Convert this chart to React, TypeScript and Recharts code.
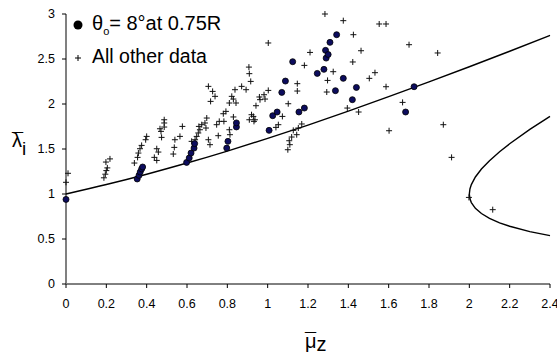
import React from 'react';
import { ScatterChart, Scatter, XAxis, YAxis, Legend } from 'recharts';

// theta_o = 8 deg at 0.75R  (mu_z, lambda_i)
const thetaPoints: [number, number][] = [
  [0, 0.94],
  [0.353, 1.167], [0.362, 1.207], [0.368, 1.244], [0.375, 1.278], [0.38, 1.3],
  [0.598, 1.351], [0.611, 1.4], [0.62, 1.455], [0.635, 1.51], [0.638, 1.56],
  [0.797, 1.51], [0.803, 1.585], [0.845, 1.745], [0.845, 1.79],
  [1.007, 1.707], [1.025, 1.87], [1.047, 1.911], [1.07, 2.129], [1.088, 2.255],
  [1.124, 2.47], [1.155, 1.911], [1.182, 1.955], [1.246, 2.34], [1.279, 2.385],
  [1.287, 2.596], [1.29, 2.51], [1.3, 2.55], [1.309, 2.685], [1.342, 2.77],
  [1.336, 2.148], [1.375, 2.285], [1.42, 2.048], [1.44, 2.184],
  [1.684, 1.911], [1.726, 2.192]
];

// all other data
const otherPoints: [number, number][] = [
  [0.0, 1.13], [0.01, 1.23],
  [0.188, 1.18], [0.195, 1.22], [0.2, 1.26], [0.205, 1.29], [0.198, 1.355], [0.218, 1.39],
  [0.339, 1.344], [0.355, 1.407], [0.359, 1.455], [0.367, 1.503], [0.375, 1.54], [0.395, 1.603], [0.4, 1.64],
  [0.438, 1.407], [0.45, 1.373], [0.45, 1.503], [0.458, 1.466], [0.466, 1.725], [0.471, 1.696],
  [0.474, 1.629], [0.487, 1.744], [0.487, 1.789], [0.487, 1.825],
  [0.532, 1.444], [0.537, 1.518], [0.54, 1.603], [0.565, 1.64], [0.577, 1.751],
  [0.623, 1.585], [0.64, 1.603], [0.648, 1.64], [0.656, 1.678], [0.659, 1.751], [0.664, 1.714],
  [0.673, 1.77], [0.689, 1.789], [0.694, 1.733], [0.698, 1.844], [0.706, 1.603], [0.714, 1.548],
  [0.706, 2.196], [0.727, 2.14], [0.739, 2.085], [0.717, 2.029],
  [0.747, 1.77], [0.755, 1.648], [0.76, 1.807], [0.78, 1.892], [0.783, 1.807], [0.793, 1.918],
  [0.81, 1.714], [0.813, 1.659], [0.83, 1.856],
  [0.81, 2.011], [0.822, 2.085], [0.83, 2.055], [0.838, 2.159], [0.843, 2.011], [0.871, 2.196], [0.893, 2.159],
  [0.907, 2.41], [0.909, 2.337], [0.916, 2.251],
  [0.909, 1.825], [0.92, 1.881], [0.929, 1.862], [0.932, 1.807], [0.937, 1.825],
  [0.942, 1.981], [0.959, 2.078], [0.962, 2.048], [0.982, 2.103], [0.987, 2.055], [1.003, 2.151],
  [1.003, 2.678], [1.041, 1.74], [1.053, 1.77], [1.073, 1.862], [1.102, 2.003], [1.147, 2.144],
  [1.147, 2.226], [1.182, 2.429], [1.21, 2.573], [1.284, 3.0],
  [1.1, 1.492], [1.11, 1.548], [1.107, 1.592], [1.119, 1.633], [1.127, 1.707], [1.144, 1.659],
  [1.152, 1.733], [1.169, 1.778],
  [1.293, 2.133], [1.297, 2.262], [1.325, 2.359], [1.375, 2.926], [1.395, 1.955], [1.422, 2.467],
  [1.425, 2.77], [1.451, 1.911], [1.463, 2.592], [1.504, 2.285], [1.532, 2.348], [1.553, 2.889],
  [1.587, 2.889], [1.587, 2.192], [1.602, 1.703], [1.669, 2.018], [1.701, 2.659], [1.843, 2.567],
  [1.871, 1.77], [1.912, 1.407], [1.998, 0.962], [2.116, 0.826]
];

// momentum theory curve
const mainCurve: [number, number][] = [
  [0, 1.0], [0.2, 1.105], [0.4, 1.22], [0.6, 1.344], [0.8, 1.477], [1.0, 1.618], [1.2, 1.766],
  [1.4, 1.921], [1.6, 2.081], [1.8, 2.245], [2.0, 2.414], [2.2, 2.586], [2.4, 2.762]
];

// windmill branch (lower end -> nose -> upper end)
const branchCurve: [number, number][] = [
  [2.4, 0.537], [2.3, 0.582], [2.2, 0.642], [2.15, 0.68], [2.1, 0.73], [2.06, 0.783], [2.03, 0.841],
  [2.01, 0.905], [2.003, 0.947], [2.0, 1.0], [2.003, 1.056], [2.01, 1.105], [2.03, 1.189],
  [2.06, 1.277], [2.1, 1.37], [2.15, 1.47], [2.2, 1.558], [2.3, 1.718], [2.4, 1.863]
];

const xTicks = [0, 0.2, 0.4, 0.6, 0.8, 1, 1.2, 1.4, 1.6, 1.8, 2, 2.2, 2.4];
const yTicks = [0, 0.5, 1, 1.5, 2, 2.5, 3];

const toXY = (pts: [number, number][]) => pts.map(([x, y]) => ({ x, y }));

const FONT = '"Liberation Sans", Arial, sans-serif';
const tickStyle = { fontFamily: FONT, fontSize: 12.5, fill: '#000' };

const Dot = (props: any) => (
  <circle cx={props.cx} cy={props.cy} r={3} fill="#0c0c5e" stroke="#000" strokeWidth={0.8} />
);

const Plus = (props: any) => (
  <path
    d={`M${props.cx - 3},${props.cy}h6M${props.cx},${props.cy - 3}v6`}
    stroke="#111"
    strokeWidth={1}
    fill="none"
  />
);

const NoShape = () => <g />;

const renderLegend = () => (
  <svg width={300} height={70} style={{ display: 'block' }}>
    <circle cx={78} cy={25} r={4.5} fill="#000" />
    <text x={92} y={30} fontFamily={FONT} fontSize={20} fill="#000">
      θ
      <tspan fontSize={11} dy={5}>o</tspan>
      <tspan fontSize={20} dy={-5}>= 8°at 0.75R</tspan>
    </text>
    <path d="M75,58h6M78,55v6" stroke="#000" strokeWidth={1} />
    <text x={92} y={63} fontFamily={FONT} fontSize={19.5} fill="#000">
      All other data
    </text>
  </svg>
);

// bar drawn as a macron glyph, then the letter set back under it
const YTitle = () => (
  <text x={12} y={147} fontFamily={FONT} fontSize={20} fill="#000">
    <tspan>{'\u00AF'}</tspan>
    <tspan x={12} dy={0}>λ</tspan>
    <tspan fontSize={19} dy={8}>i</tspan>
  </text>
);

const XTitle = () => (
  <text x={305} y={347} fontFamily={FONT} fontSize={20} fill="#000">
    <tspan>{'\u00AF'}</tspan>
    <tspan x={305} dy={1}>μ</tspan>
    <tspan dy={3}>z</tspan>
  </text>
);

export default function App() {
  return (
    <div style={{ position: 'absolute', left: 0, top: 0, width: 557, height: 355, background: '#fff' }}>
      <ScatterChart width={557} height={355} margin={{ top: 14, right: 7, bottom: 0, left: 0 }}>
        <XAxis
          type="number"
          dataKey="x"
          domain={[0, 2.4]}
          ticks={xTicks}
          interval={0}
          height={71}
          tickSize={4}
          tickMargin={11}
          tick={tickStyle}
          axisLine={{ stroke: '#000', strokeWidth: 1 }}
          tickLine={{ stroke: '#000' }}
          label={{ content: XTitle }}
        />
        <YAxis
          type="number"
          dataKey="y"
          domain={[0, 3]}
          ticks={yTicks}
          interval={0}
          width={66}
          tickSize={4}
          tickMargin={7}
          tick={tickStyle}
          axisLine={{ stroke: '#808080', strokeWidth: 2 }}
          tickLine={{ stroke: '#000' }}
          label={{ content: YTitle }}
        />
        <Legend
          layout="vertical"
          align="center"
          verticalAlign="middle"
          wrapperStyle={{ left: 0, top: 0, width: 300, height: 70 }}
          content={renderLegend}
        />
        <Scatter
          data={toXY(mainCurve)}
          shape={NoShape}
          line={{ stroke: '#000', strokeWidth: 1.4 }}
          lineJointType="monotoneX"
          isAnimationActive={false}
        />
        <Scatter
          data={toXY(branchCurve)}
          shape={NoShape}
          line={{ stroke: '#000', strokeWidth: 1.4 }}
          lineJointType="linear"
          isAnimationActive={false}
        />
        <Scatter data={toXY(otherPoints)} shape={Plus} isAnimationActive={false} />
        <Scatter data={toXY(thetaPoints)} shape={Dot} isAnimationActive={false} />
      </ScatterChart>
    </div>
  );
}
